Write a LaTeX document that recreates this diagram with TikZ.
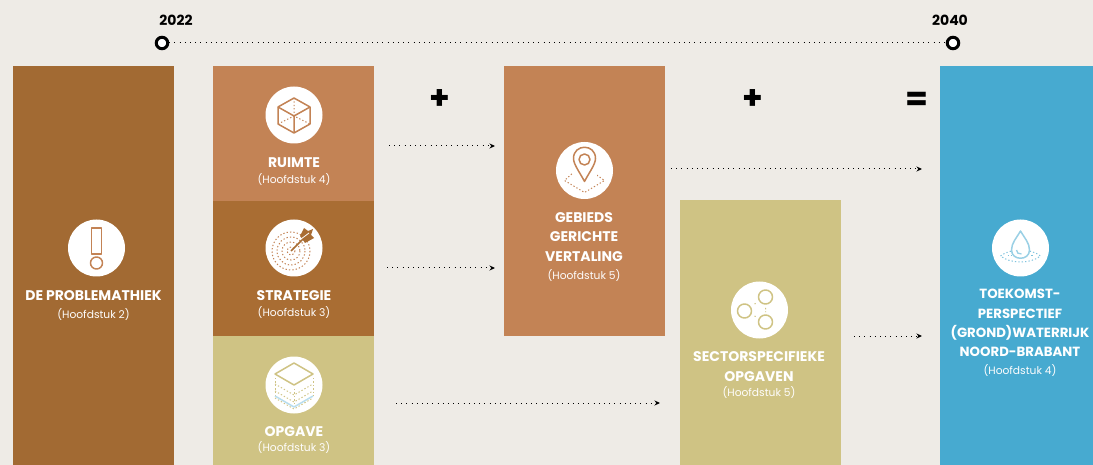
\documentclass[tikz,border=0pt]{standalone}
\usepackage{fontspec}
\setmainfont{Poppins}
\usetikzlibrary{positioning,arrows.meta}
\definecolor{paper}{HTML}{EEEBE6}
\definecolor{brownA}{HTML}{A26A33}
\definecolor{brownB}{HTML}{A96D33}
\definecolor{clay}{HTML}{C38355}
\definecolor{sand}{HTML}{CFC384}
\definecolor{water}{HTML}{47AAD0}
\definecolor{pale}{HTML}{B9DDEE}
\tikzset{
  block/.style = {rectangle, anchor = north west, minimum width = 161pt, inner sep = 0pt, outer sep = 0pt},
  disc/.style = {circle, fill = white, minimum size = 57pt, inner sep = 0pt, outer sep = 0pt},
  title/.style = {text = white, font = \fontsize{14}{19.3}\selectfont\bfseries, align = center, inner sep = 0pt},
  chapter/.style = {text = white!92!paper, font = \fontsize{10.7}{12}\selectfont, inner sep = 0pt},
  year/.style = {circle, draw = black, line width = 3pt, fill = white, minimum size = 11.5pt, inner sep = 0pt},
  yeartext/.style = {font = \fontsize{14}{15}\selectfont\bfseries, inner sep = 0pt},
  sign/.style = {font = \fontsize{33}{33}\selectfont\bfseries, inner sep = 0pt},
  flow/.style = {line width = 1pt, dash pattern = on 1pt off 4.2pt, -{Stealth[length = 5.5pt, width = 5pt]}},
  ink/.style = {line width = 1.5pt, line join = round},
  dots/.style = {line width = 1pt, dash pattern = on 1.3pt off 2.1pt}
}
\begin{document}
\begin{tikzpicture}[x = 1pt, y = -1pt]
  \fill[paper] (0,0) rectangle (1093,465);
  \useasboundingbox (0,0) rectangle (1093,465);

  % timeline
  \node[year] (start) at (162,43) {};
  \node[year] (end) at (953,43) {};
  \node[yeartext] (startyear) at (176,20) {2022};
  \node[yeartext] (endyear) at (950,20) {2040};
  \draw[line width = 1pt, dash pattern = on 1pt off 4.2pt] (start) -- (end);

  % blocks
  \node[block, fill = brownA, minimum height = 399pt] (problem) at (13,66) {};
  \node[block, fill = clay, minimum height = 135pt] (space) at (213,66) {};
  \node[block, fill = brownB, minimum height = 135pt] (strategy) at (213,201) {};
  \node[block, fill = sand, minimum height = 129pt] (task) at (213,336) {};
  \node[block, fill = clay, minimum height = 270pt] (area) at (504,66) {};
  \node[block, fill = sand, minimum height = 265pt] (sector) at (680,200) {};
  \node[block, fill = water, minimum width = 153pt, minimum height = 399pt] (future) at (940,66) {};

  % icon discs
  \node[disc] (problemdisc) at (96.5,248) {};
  \node[disc] (spacedisc) at (294,115) {};
  \node[disc] (strategydisc) at (294,248) {};
  \node[disc] (taskdisc) at (294,385) {};
  \node[disc] (areadisc) at (584.5,170.5) {};
  \node[disc] (sectordisc) at (759.5,310) {};
  \node[disc] (futuredisc) at (1020.5,248) {};

  % labels
  \node[title] (problemtitle) at (93.5,296) {DE PROBLEMATHIEK};
  \node[chapter, below = 7pt of problemtitle] (problemchapter) {(Hoofdstuk 2)};
  \node[title] (spacetitle) at (294,163) {RUIMTE};
  \node[chapter, below = 5pt of spacetitle] (spacechapter) {(Hoofdstuk 4)};
  \node[title] (strategytitle) at (294,296) {STRATEGIE};
  \node[chapter, below = 5pt of strategytitle] (strategychapter) {(Hoofdstuk 3)};
  \node[title] (tasktitle) at (294,432) {OPGAVE};
  \node[chapter, below = 4pt of tasktitle] (taskchapter) {(Hoofdstuk 3)};
  \node[title] (areatitle) at (584,237) {GEBIEDS\\GERICHTE\\VERTALING};
  \node[chapter, below = 8pt of areatitle] (areachapter) {(Hoofdstuk 5)};
  \node[title] (sectortitle) at (759,366.5) {SECTORSPECIFIEKE\\OPGAVEN};
  \node[chapter, below = 5pt of sectortitle] (sectorchapter) {(Hoofdstuk 5)};
  \node[title, font = \fontsize{13.3}{19.3}\selectfont\bfseries] (futuretitle) at (1020,323) {TOEKOMST-\\PERSPECTIEF\\(GROND)WATERRIJK\\NOORD-BRABANT};
  \node[chapter, below = 7pt of futuretitle] (futurechapter) {(Hoofdstuk 4)};

  \node[sign] (plusA) at (439.5,100) {+};
  \node[sign] (plusB) at (752.5,100) {+};
  \node[sign] (equals) at (917,101) {=};

  % connectors
  \coordinate (a1) at (389,146);
  \coordinate (a2) at (495,146);
  \coordinate (b1) at (387,268);
  \coordinate (b2) at (495,268);
  \coordinate (c1) at (396,403);
  \coordinate (c2) at (660,403);
  \coordinate (d1) at (671,169);
  \coordinate (d2) at (922,169);
  \coordinate (e1) at (854,336);
  \coordinate (e2) at (922,336);
  \draw[flow] (a1) -- (a2);
  \draw[flow] (b1) -- (b2);
  \draw[flow] (c1) -- (c2);
  \draw[flow] (d1) -- (d2);
  \draw[flow] (e1) -- (e2);

  % exclamation mark
  \begin{scope}[shift = {(problemdisc.center)}, draw = clay]
    \draw[ink] (-5,-20) rectangle (5,6);
    \draw[ink] (0,15) circle (6);
  \end{scope}

  % cube
  \begin{scope}[shift = {(spacedisc.center)}, draw = clay]
    \draw[ink] (0,-17) -- (16,-8) -- (16,9) -- (0,18) -- (-16,9) -- (-16,-8) -- cycle;
    \draw[ink] (-16,-8) -- (0,1) -- (16,-8) (0,1) -- (0,18);
    \draw[dots] (0,-17) -- (0,1) (-16,9) -- (0,1) -- (16,9);
  \end{scope}

  % target with dart
  \begin{scope}[shift = {(strategydisc.center)}, draw = clay]
    \foreach \rad in {4,9,14,19}
      \draw[dots, shift = {(-3,3)}] (0,0) circle (\rad);
    \draw[ink, draw = brownB] (-3,3) -- (11,-11);
    \fill[brownB] (6,-12) -- (10,-20) -- (14,-17) -- (19,-19) -- (17,-13) -- (20,-10) -- (11,-5) -- cycle;
    \draw[white, line width = .8pt] (7,-9) -- (15,-15);
  \end{scope}

  % layered block
  \begin{scope}[shift = {(taskdisc.center)}, draw = sand]
    \draw[ink] (0,-22) -- (19,-11) -- (0,0) -- (-19,-11) -- cycle;
    \draw[dots] (-19,-7) -- (-19,11) (19,-7) -- (19,11) (0,4) -- (0,20);
    \foreach \off in {-1,6,13}
      \draw[dots] (-19,\off) -- (0,\off+11) -- (19,\off);
    \draw[ink, draw = pale] (-19,11) -- (0,22) -- (19,11);
  \end{scope}

  % map pin
  \begin{scope}[shift = {(areadisc.center)}, draw = clay]
    \draw[dots] (0,-8) -- (-20,10) -- (0,22) -- (20,10) -- (10,3);
    \fill[white] (-12,-20) rectangle (12,10);
    \draw[ink] (0,11) .. controls (-4,3) and (-11,-6) .. (-11,-12)
      .. controls (-11,-27) and (11,-27) .. (11,-12)
      .. controls (11,-6) and (4,3) .. (0,11) -- cycle;
    \draw[ink] (0,-11) circle (5.5);
  \end{scope}

  % three linked circles
  \begin{scope}[shift = {(sectordisc.center)}, draw = sand]
    \draw[ink] (6,-13) circle (7);
    \draw[ink] (-15,1) circle (7);
    \draw[ink] (6,12) circle (7);
    \draw[dots] (-5,-6) -- (-3,-7) (-5,6) -- (-3,7) (6,-2) -- (6,2);
  \end{scope}

  % water drop
  \begin{scope}[shift = {(futuredisc.center)}, draw = water!55!white]
    \draw[dots, draw = water!70!white] (-20,8) .. controls (-10,0) and (10,0) .. (20,8)
      .. controls (10,16) and (-10,16) .. (-20,8);
    \draw[dots, draw = water!70!white] (-13,8) -- (13,8);
    \fill[white] (-8,-6) rectangle (8,9);
    \draw[ink] (0,-17) .. controls (-4,-10) and (-9,-5) .. (-9,2)
      .. controls (-9,13) and (9,13) .. (9,2)
      .. controls (9,-5) and (4,-10) .. (0,-17) -- cycle;
    \draw[ink, line width = 1.3pt] (-4,2) .. controls (-4,5) and (-2,6) .. (1,6);
  \end{scope}
\end{tikzpicture}
\end{document}
